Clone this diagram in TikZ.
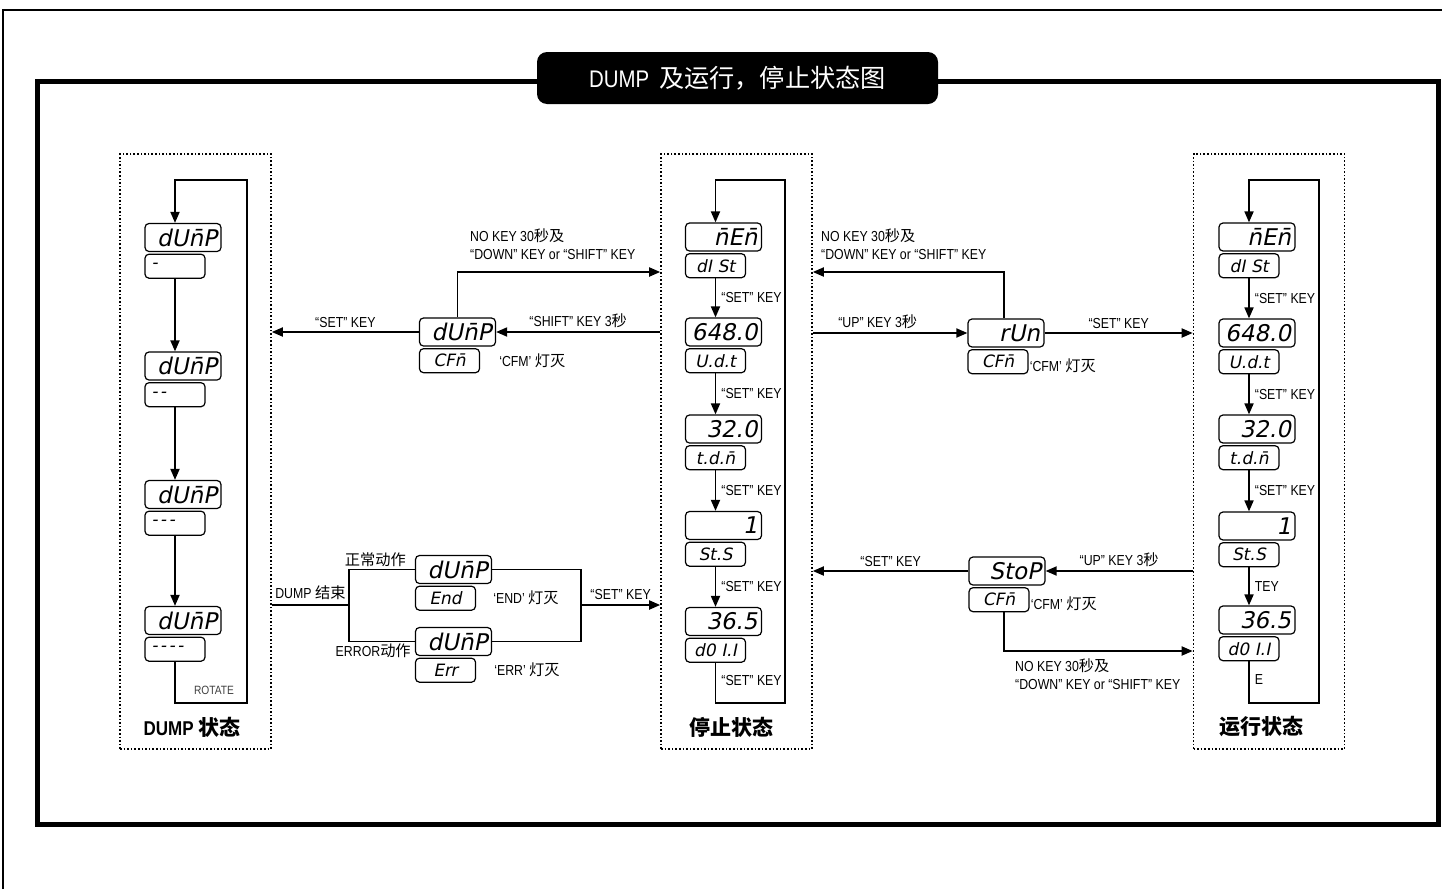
\documentclass[tikz,border=0pt]{standalone}
\usepackage{fontspec}
\setmainfont{Liberation Sans}[FakeStretch=0.85]
\newfontfamily\cjk{Noto Sans CJK SC}[Scale=1.05]
\newfontfamily\segfont{DejaVu Sans}[FakeSlant=0.2]
\usetikzlibrary{arrows.meta,positioning}

\tikzset{
  seg/.style={draw, line width=1.2pt, rounded corners=4pt, inner xsep=4pt, inner ysep=0pt,
    text width=68pt, align=right, minimum height=28pt, font=\segfont\fontsize{23}{23}\selectfont},
  sub/.style={draw, line width=1.2pt, rounded corners=4pt, anchor=north west, inner xsep=4pt,
    inner ysep=0pt, text width=52pt, align=center, minimum height=24pt,
    font=\segfont\fontsize{17}{17}\selectfont},
  wire/.style={line width=1.8pt},
  flow/.style={wire, -{Triangle[length=11pt,width=9pt]}},
  lbl/.style={font=\fontsize{14.5}{18}\selectfont, inner sep=1pt},
  frame/.style={draw, dotted, line width=1.6pt, minimum width=151pt, minimum height=595pt},
  state/.style={font=\bfseries\fontsize{20}{24}\selectfont},
}
% display: top window and the small window under it
\newcommand{\disp}[6][]{%
  \node[seg] (#2) at (#3,#4) {#5};
  \node[sub,#1] (#2b) at ([yshift=-1.5pt]#2.south west) {#6};}
\newcommand{\dsh}{\kern2.5pt}

\begin{document}
\begin{tikzpicture}[x=1pt,y=-1pt]
\useasboundingbox (0,0) rectangle (1442,889);

% frames
\draw[line width=1.2pt] (3,889) -- (3,10) -- (1442,10);
\draw[line width=5pt] (37,81) rectangle (1438.5,824);
\node[fill=black, rounded corners=10pt, minimum width=401pt, minimum height=52pt, text=white,
  font=\fontsize{24}{28}\selectfont] (title) at (737.5,78) {DUMP\hspace{10pt}{\cjk 及运行，停止状态图}\hspace{22pt}};

\node[frame] (dumpfr) at (195.5,451.5) {};
\node[frame] (stopfr) at (736.5,451.5) {};
\node[frame] (runfr) at (1269,451.5) {};

% DUMP column
\disp[align=left]{du1}{183}{237.5}{dU\=nP}{\dsh-}
\disp[align=left]{du2}{183}{366}{dU\=nP}{\dsh-\dsh-}
\disp[align=left]{du3}{183}{494.5}{dU\=nP}{\dsh-\dsh-\dsh-}
\disp[align=left]{du4}{183}{620.5}{dU\=nP}{\dsh-\dsh-\dsh-\dsh-}
\draw[flow] (du1b.south) -- (du1b.south |- du2.north);
\draw[flow] (du2b.south) -- (du2b.south |- du3.north);
\draw[flow] (du3b.south) -- (du3b.south |- du4.north);
\draw[flow] (du4b.south) |- (247,703) -- (247,180) -| (du1b.south |- du1.north);
\node[lbl, font=\fontsize{12}{14}\selectfont, text=black!75] (rot) at (214,690) {ROTATE};
\node[state] (dumpt) at (192,727) {DUMP {\cjk 状态}};

% stop column
\disp{st1}{723.5}{237}{\=nE\=n}{dI St}
\disp{st2}{723.5}{332}{648.0}{U.d.t}
\disp{st3}{723.5}{429}{32.0}{t.d.\=n}
\disp{st4}{723.5}{525.5}{1}{St.S}
\disp{st5}{723.5}{621.5}{36.5}{d0 I.I}
\draw[flow] (st1b.south) -- (st1b.south |- st2.north) node[lbl, midway, right=4pt] {“SET” KEY};
\draw[flow] (st2b.south) -- (st2b.south |- st3.north) node[lbl, midway, right=4pt] {“SET” KEY};
\draw[flow] (st3b.south) -- (st3b.south |- st4.north) node[lbl, midway, right=4pt] {“SET” KEY};
\draw[flow] (st4b.south) -- (st4b.south |- st5.north) node[lbl, midway, right=4pt] {“SET” KEY};
\draw[flow] (st5b.south) |- (785,703) node[lbl, pos=0.22, right=4pt] {“SET” KEY}
  -- (785,180) -| (st1b.south |- st1.north);
\node[state] (stopt) at (731,727) {\cjk 停止状态};

% run column
\disp{rn1}{1257}{237}{\=nE\=n}{dI St}
\disp{rn2}{1257}{333}{648.0}{U.d.t}
\disp{rn3}{1257}{429}{32.0}{t.d.\=n}
\disp{rn4}{1257}{526}{1}{St.S}
\disp{rn5}{1257}{620}{36.5}{d0 I.I}
\draw[flow] (rn1b.south) -- (rn1b.south |- rn2.north) node[lbl, midway, right=4pt] {“SET” KEY};
\draw[flow] (rn2b.south) -- (rn2b.south |- rn3.north) node[lbl, midway, right=4pt] {“SET” KEY};
\draw[flow] (rn3b.south) -- (rn3b.south |- rn4.north) node[lbl, midway, right=4pt] {“SET” KEY};
\draw[flow] (rn4b.south) -- (rn4b.south |- rn5.north) node[lbl, midway, right=4pt] {TEY};
\draw[flow] (rn5b.south) |- (1319,703) node[lbl, pos=0.22, right=4pt] {E}
  -- (1319,180) -| (rn1b.south |- rn1.north);
\node[state] (runt) at (1261,727) {\cjk 运行状态};

% stop -> dump
\disp{dc}{457.5}{332}{dU\=nP}{CF\=n}
\draw[flow] (stopfr.west |- dc.east) -- (dc.east) node[lbl, midway, above=2pt] {“SHIFT” KEY 3{\cjk 秒}};
\draw[flow] (dc.west) -- (dumpfr.east |- dc.west) node[lbl, midway, above=2pt] {“SET” KEY};
\draw[flow] (dc.north) |- (stopfr.west |- 0,272);
\node[lbl, anchor=north west, align=left] (nokey1) at (469,228) {NO KEY 30{\cjk 秒及}\\“DOWN” KEY or “SHIFT” KEY};
\node[lbl, right=18pt of dcb] (cfm1) {‘CFM’ {\cjk 灯灭}};

% dump end
\disp{en}{453.5}{569.5}{dU\=nP}{End}
\disp{er}{453.5}{641.5}{dU\=nP}{Err}
\coordinate (split) at (349,605);
\coordinate (join) at (581,605);
\draw[wire] (dumpfr.east |- split) -- (split) node[lbl, midway, above=3pt] {DUMP {\cjk 结束}};
\draw[wire] (en.west) -| (split) node[lbl, pos=0.3, above=1pt] {\cjk 正常动作};
\draw[wire] (er.west) -| (split);
\node[lbl, anchor=north east] (errlbl) at ([xshift=-3pt,yshift=-1pt]er.west) {ERROR{\cjk 动作}};
\draw[wire] (en.east) -| (join);
\draw[wire] (er.east) -| (join);
\draw[flow] (join) -- (stopfr.west |- join) node[lbl, midway, above=3pt] {“SET” KEY};
\node[lbl, right=16pt of enb] (endoff) {‘END’ {\cjk 灯灭}};
\node[lbl, right=17pt of erb] (erroff) {‘ERR’ {\cjk 灯灭}};

% stop <-> run
\disp{ru}{1006}{333}{rUn}{CF\=n}
\draw[flow] (stopfr.east |- ru.west) -- (ru.west) node[lbl, pos=0.42, above=2pt] {“UP” KEY 3{\cjk 秒}};
\draw[flow] (ru.east) -- (runfr.west |- ru.east) node[lbl, midway, above=2pt] {“SET” KEY};
\draw[flow] ([xshift=-2pt]ru.north) |- (stopfr.east |- 0,272);
\node[lbl, anchor=north west, align=left] (nokey2) at (820,228) {NO KEY 30{\cjk 秒及}\\“DOWN” KEY or “SHIFT” KEY};
\node[lbl, anchor=south west] (cfm2) at (rub.south east) {‘CFM’ {\cjk 灯灭}};

\disp{sp}{1007}{571}{StoP}{CF\=n}
\draw[flow] (runfr.west |- sp.east) -- (sp.east) node[lbl, midway, above=2pt] {“UP” KEY 3{\cjk 秒}};
\draw[flow] (sp.west) -- (stopfr.east |- sp.west) node[lbl, midway, above=2pt] {“SET” KEY};
\draw[flow] ([xshift=5pt]spb.south) |- (runfr.west |- 0,651);
\node[lbl, anchor=north west, align=left] (nokey3) at (1014,657) {NO KEY 30{\cjk 秒及}\\“DOWN” KEY or “SHIFT” KEY};
\node[lbl, anchor=south west] (cfm3) at (spb.south east) {‘CFM’ {\cjk 灯灭}};
\end{tikzpicture}
\end{document}
